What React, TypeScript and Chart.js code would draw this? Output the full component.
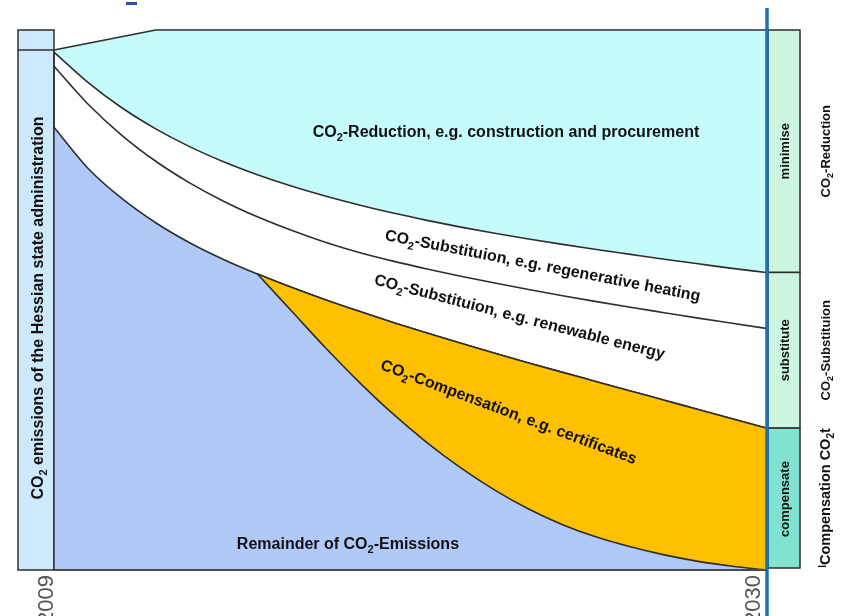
import React, { useEffect, useRef } from 'react';
import { Chart, registerables } from 'chart.js';

Chart.register(...registerables);

// ---------- data ----------
const years = [2009, 2010, 2011, 2012, 2013, 2014, 2015, 2016, 2017, 2018, 2019, 2020, 2021, 2022, 2023, 2024, 2025, 2026, 2027, 2028, 2029, 2030];

// total emissions envelope (top of the reduction band)
const totalYears = [2009, 2012, 2030];
const totalValues = [96.3, 100, 100];

// lower edge of the CO2-reduction band
const reductionFloor = [95.9, 90.3, 85.6, 81.7, 78.4, 75.6, 73.2, 71.1, 69.25, 67.6, 66.1, 64.75, 63.5, 62.35, 61.3, 60.3, 59.35, 58.45, 57.55, 56.7, 55.85, 55.1];

// line between the two substitution bands
const substitutionSplit = [93.3, 86.3, 80.5, 75.7, 71.7, 68.3, 65.4, 62.9, 60.7, 58.8, 57.2, 55.75, 54.4, 53.15, 51.95, 50.8, 49.7, 48.65, 47.65, 46.65, 45.7, 44.75];

// lower edge of the substitution band (top of compensation / remainder)
const substitutionFloor = [82.0, 74.4, 68.8, 64.3, 60.6, 57.5, 54.8, 52.35, 50.05, 47.9, 45.85, 43.9, 42.0, 40.15, 38.35, 36.6, 34.88, 33.16, 31.44, 29.72, 28.0, 26.28];

// remainder of emissions after compensation starts
const compensationYears = [2015, 2016, 2017, 2018, 2019, 2020, 2021, 2022, 2023, 2024, 2025, 2026, 2027, 2028, 2029, 2030];
const remainderValues = [54.8, 48.0, 41.2, 34.8, 28.9, 23.6, 18.9, 14.8, 11.3, 8.4, 6.1, 4.3, 2.8, 1.6, 0.7, 0.0];

// text labels
const leftAxisLabel = 'CO₂ emissions of the Hessian state administration';
const bandLabels = [
  'CO₂-Reduction, e.g. construction and procurement',
  'CO₂-Substituion, e.g. regenerative heating',
  'CO₂-Substituion, e.g. renewable energy',
  'CO₂-Compensation, e.g. certificates',
  'Remainder of CO₂-Emissions',
];
const strategyLabels = ['minimise', 'substitute', 'compensate'];
const strategyTitles = ['CO₂-Reduction', 'CO₂-Substituion', 'ˡCompensation CO₂t'];
const yearLabels = ['2009', '2030'];

// ---------- drawing helpers ----------
const FONT = '"Liberation Sans", Arial, Helvetica, sans-serif';

type Seg = { t: string; k: number };
function toSegs(s: string): Seg[] {
  const out: Seg[] = [];
  for (const ch of s) {
    const k = ch === '₂' ? 1 : ch === 'ˡ' ? 2 : 0;
    const t = ch === '₂' ? '2' : ch === 'ˡ' ? 'l' : ch;
    const last = out[out.length - 1];
    if (last && last.k === k) last.t += t;
    else out.push({ t, k });
  }
  return out;
}

function drawRich(
  ctx: CanvasRenderingContext2D,
  s: string,
  cx: number,
  cy: number,
  size: number,
  bold: boolean,
  color: string,
  angle = 0
) {
  const sg = toSegs(s);
  const fontFor = (k: number) => `${bold ? 'bold ' : ''}${k ? Math.round(size * 0.68) : size}px ${FONT}`;
  let total = 0;
  for (const g of sg) {
    ctx.font = fontFor(g.k);
    total += ctx.measureText(g.t).width;
  }
  ctx.save();
  ctx.translate(cx, cy);
  ctx.rotate(angle);
  ctx.fillStyle = color;
  ctx.textBaseline = 'alphabetic';
  ctx.textAlign = 'left';
  let x = -total / 2;
  for (const g of sg) {
    ctx.font = fontFor(g.k);
    const dy = g.k === 1 ? size * 0.28 : g.k === 2 ? -size * 0.3 : 0;
    ctx.fillText(g.t, x, size * 0.36 + dy);
    x += ctx.measureText(g.t).width;
  }
  ctx.restore();
}

const LINE = '#2e2e2e';
const deg = Math.PI / 180;

const decor = {
  id: 'decor',
  beforeDatasetsDraw(chart: any) {
    const { ctx, scales } = chart;
    const xs = scales.x;
    const ys = scales.y;
    const x0 = xs.getPixelForValue(2009);
    const x1 = xs.getPixelForValue(2030);
    const yTop = ys.getPixelForValue(100);
    const yBot = ys.getPixelForValue(0);
    ctx.save();
    // left bar
    const lx = x0 - 36;
    ctx.fillStyle = '#cde9fb';
    ctx.fillRect(lx, yTop, 36, yBot - yTop);
    ctx.strokeStyle = LINE;
    ctx.lineWidth = 1.5;
    ctx.strokeRect(lx, yTop, 36, yBot - yTop);
    const yDiv = ys.getPixelForValue(totalValues[0]);
    ctx.beginPath();
    ctx.moveTo(lx, yDiv);
    ctx.lineTo(x0, yDiv);
    ctx.stroke();

    // right bars
    const rb = x1 + 2;
    const rw = 32;
    const y1 = ys.getPixelForValue(reductionFloor[reductionFloor.length - 1]);
    const y2 = ys.getPixelForValue(substitutionFloor[substitutionFloor.length - 1]);
    const y3 = yBot - 2;
    const bands = [
      [yTop, y1, '#ccf6e0'],
      [y1, y2, '#ccf6e0'],
      [y2, y3, '#80e3cf'],
    ];
    bands.forEach(([a, b, c]: any) => {
      ctx.fillStyle = c;
      ctx.fillRect(rb, a, rw, b - a);
      ctx.strokeStyle = LINE;
      ctx.lineWidth = 1.5;
      ctx.strokeRect(rb, a, rw, b - a);
    });
    ctx.restore();
  },
  afterDatasetsDraw(chart: any) {
    const { ctx, scales } = chart;
    const xs = scales.x;
    const ys = scales.y;
    const x0 = xs.getPixelForValue(2009);
    const x1 = xs.getPixelForValue(2030);
    const yTop = ys.getPixelForValue(100);
    const yBot = ys.getPixelForValue(0);
    ctx.save();

    // bottom axis line
    ctx.strokeStyle = '#4a4a4a';
    ctx.lineWidth = 2;
    ctx.beginPath();
    ctx.moveTo(x0, yBot);
    ctx.lineTo(x1, yBot);
    ctx.stroke();

    // left border of plot
    ctx.strokeStyle = LINE;
    ctx.lineWidth = 1.5;
    ctx.beginPath();
    ctx.moveTo(x0, ys.getPixelForValue(totalValues[0]));
    ctx.lineTo(x0, yBot);
    ctx.stroke();

    // in-plot band labels
    const P = (yr: number, v: number) => [xs.getPixelForValue(yr), ys.getPixelForValue(v)];
    const pos = [
      [2022.33, 81.3, 0],
      [2023.42, 56.5, 11],
      [2022.74, 47.0, 14.5],
      [2022.42, 29.4, 20.5],
      [2017.67, 5.0, 0],
    ];
    bandLabels.forEach((t, i) => {
      const [px, py] = P(pos[i][0], pos[i][1]);
      drawRich(ctx, t, px, py, 16, true, '#111', pos[i][2] * deg);
    });

    // left bar label
    drawRich(ctx, leftAxisLabel, x0 - 17, yTop + 278, 16, true, '#111', -90 * deg);

    // right bar labels
    const y1 = ys.getPixelForValue(reductionFloor[reductionFloor.length - 1]);
    const y2 = ys.getPixelForValue(substitutionFloor[substitutionFloor.length - 1]);
    const mids = [(yTop + y1) / 2, (y1 + y2) / 2, (y2 + yBot) / 2];
    strategyLabels.forEach((t, i) => {
      drawRich(ctx, t, x1 + 18, mids[i], 13, true, '#111', -90 * deg);
    });
    strategyTitles.forEach((t, i) => {
      drawRich(ctx, t, x1 + 59, mids[i] - (i === 2 ? 1 : 0), i === 2 ? 14.5 : 13, true, '#111', -90 * deg);
    });

    // blue vertical marker at 2030
    ctx.strokeStyle = '#1d6fb3';
    ctx.lineWidth = 3.5;
    ctx.beginPath();
    ctx.moveTo(x1 + 1, 8);
    ctx.lineTo(x1 + 1, chart.height);
    ctx.stroke();

    // year labels
    ctx.fillStyle = '#555';
    ctx.font = `22px ${FONT}`;
    ctx.textBaseline = 'alphabetic';
    ctx.textAlign = 'right';
    [[x0 - 1, yearLabels[0]], [x1 - 6, yearLabels[1]]].forEach(([bx, t]: any) => {
      ctx.save();
      ctx.translate(bx, yBot + 5);
      ctx.rotate(-90 * deg);
      ctx.fillText(t, 0, 0);
      ctx.restore();
    });

    // small blue dash at top
    ctx.fillStyle = '#2f4fa8';
    ctx.fillRect(126, 2, 11, 3);
    ctx.restore();
  },
};

export default function App() {
  const ref = useRef<HTMLCanvasElement>(null);
  useEffect(() => {
    if (!ref.current) return;
    const common = {
      borderColor: LINE,
      borderWidth: 1.6,
      pointRadius: 0,
      clip: false,
      cubicInterpolationMode: 'monotone',
    };
    const chart = new Chart(ref.current, {
      type: 'line',
      data: {
        datasets: [
          {
            ...common,
            label: 'Remainder after compensation',
            data: compensationYears.map((yr, i) => ({ x: yr, y: remainderValues[i] })),
            fill: false,
          },
          {
            ...common,
            label: 'CO2-Compensation',
            data: compensationYears.map((yr) => ({ x: yr, y: substitutionFloor[years.indexOf(yr)] })),
            backgroundColor: '#ffc000',
            fill: '-1',
          },
          {
            ...common,
            label: 'Remainder of CO2-Emissions',
            data: years.map((yr, i) => ({ x: yr, y: substitutionFloor[i] })),
            backgroundColor: '#b0c9f9',
            fill: 'origin',
          },
          {
            ...common,
            label: 'Substitution split',
            data: years.map((yr, i) => ({ x: yr, y: substitutionSplit[i] })),
            fill: false,
          },
          {
            ...common,
            label: 'CO2-Reduction floor',
            data: years.map((yr, i) => ({ x: yr, y: reductionFloor[i] })),
            fill: false,
          },
          {
            ...common,
            label: 'Total emissions',
            data: totalYears.map((yr, i) => ({ x: yr, y: totalValues[i] })),
            cubicInterpolationMode: 'default',
            tension: 0,
            backgroundColor: '#c6fbfb',
            fill: '-1',
          },
        ] as any,
      },
      options: {
        animation: false,
        responsive: false,
        maintainAspectRatio: false,
        layout: { padding: { left: 54, right: 76, top: 30, bottom: 46 } },
        scales: {
          x: { type: 'linear', min: 2009, max: 2030, display: false },
          y: { type: 'linear', min: 0, max: 100, display: false },
        },
        plugins: { legend: { display: false }, tooltip: { enabled: false } },
        elements: { point: { radius: 0 } },
      },
      plugins: [decor],
    });
    return () => chart.destroy();
  }, []);
  return (
    <div style={{ position: 'absolute', left: 0, top: 0, width: 842, height: 616, background: '#fff', overflow: 'hidden' }}>
      <canvas ref={ref} width={842} height={616} style={{ display: 'block', width: 842, height: 616 }} />
    </div>
  );
}
